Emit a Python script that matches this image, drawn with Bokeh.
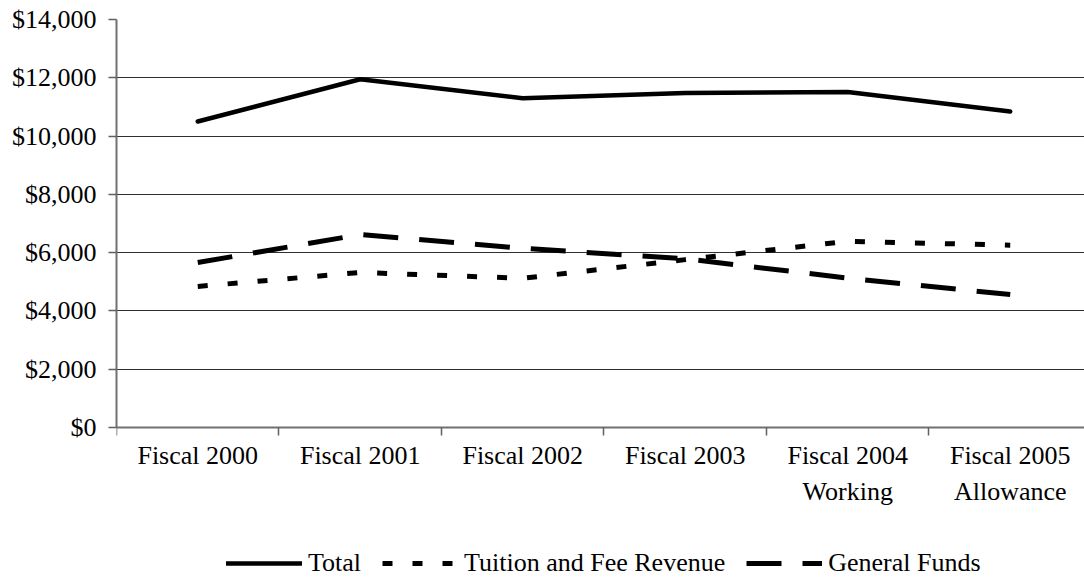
from bokeh.plotting import figure
from bokeh.models import (FixedTicker, NumeralTickFormatter, Range1d, Legend,
                          LegendItem, ColumnDataSource)
from bokeh.embed import file_html
from bokeh.resources import INLINE

# Per-student revenue by fiscal year
categories = ["Fiscal 2000", "Fiscal 2001", "Fiscal 2002", "Fiscal 2003",
              "Fiscal 2004\nWorking", "Fiscal 2005\nAllowance"]
total = [10500, 11950, 11300, 11480, 11510, 10840]
tuition_fees = [4840, 5320, 5120, 5760, 6390, 6255]
general_funds = [5660, 6620, 6150, 5790, 5125, 4560]
y_ticks = [0, 2000, 4000, 6000, 8000, 10000, 12000, 14000]

FONT = "Liberation Serif"
FS = "26px"

x = list(range(len(categories)))
src = ColumnDataSource(dict(x=x, total=total, tuition=tuition_fees,
                            general=general_funds))

# the frame runs to the bottom of the page; the region below $0 holds the
# category labels and the legend
p = figure(width=1084, height=579,
           x_range=Range1d(-0.5, 5.457), y_range=Range1d(-5216, 14000),
           output_backend="svg", toolbar_location=None,
           min_border_left=116, min_border_right=0,
           min_border_top=19, min_border_bottom=0)
p.outline_line_color = None
p.background_fill_color = "white"
p.border_fill_color = "white"

# x axis pinned at $0: labels at category centres, tick marks between categories
xa = p.xaxis[0]
xa.fixed_location = 0
xa.ticker = FixedTicker(ticks=x, minor_ticks=[i - 0.5 for i in range(len(categories) + 1)])
xa.major_label_overrides = {i: c for i, c in enumerate(categories)}
xa.major_tick_out = 0
xa.major_tick_in = 0
xa.minor_tick_out = 8
xa.minor_tick_in = 0
xa.minor_tick_line_color = "#606060"
xa.minor_tick_line_width = 1.5
xa.axis_line_color = "#707070"
xa.axis_line_width = 2
xa.major_label_standoff = 6
xa.major_label_text_font = FONT
xa.major_label_text_font_size = FS
xa.major_label_text_color = "black"
xa.major_label_text_line_height = 1.21

# y axis in dollars
ya = p.yaxis[0]
ya.bounds = (0, 14000)
ya.ticker = FixedTicker(ticks=y_ticks)
ya.formatter = NumeralTickFormatter(format="$0,0")
ya.major_tick_out = 8
ya.major_tick_in = 0
ya.major_tick_line_color = "#606060"
ya.major_tick_line_width = 1.5
ya.minor_tick_out = 0
ya.minor_tick_in = 0
ya.axis_line_color = "#707070"
ya.axis_line_width = 2
ya.major_label_standoff = 12
ya.major_label_text_font = FONT
ya.major_label_text_font_size = FS
ya.major_label_text_color = "black"

p.xgrid.visible = False
p.ygrid.grid_line_color = "#303030"
p.ygrid.grid_line_width = 1

r_total = p.line("x", "total", source=src, line_color="black",
                 line_width=4.5, line_cap="round", line_join="round")
r_tuition = p.line("x", "tuition", source=src, line_color="black",
                   line_width=5, line_dash="10 20")
r_general = p.line("x", "general", source=src, line_color="black",
                   line_width=5, line_dash="35 21")

legend = Legend(items=[LegendItem(label="Total", renderers=[r_total]),
                       LegendItem(label="Tuition and Fee Revenue", renderers=[r_tuition]),
                       LegendItem(label="General Funds", renderers=[r_general])],
                orientation="horizontal", location=(110, 1),
                glyph_width=76, glyph_height=20, label_standoff=6, spacing=21,
                label_text_font=FONT, label_text_font_size=FS,
                label_text_color="black", border_line_color=None,
                background_fill_alpha=0, padding=0, margin=0)
p.add_layout(legend, "center")

open("out.html", "w").write(file_html(p, INLINE))
